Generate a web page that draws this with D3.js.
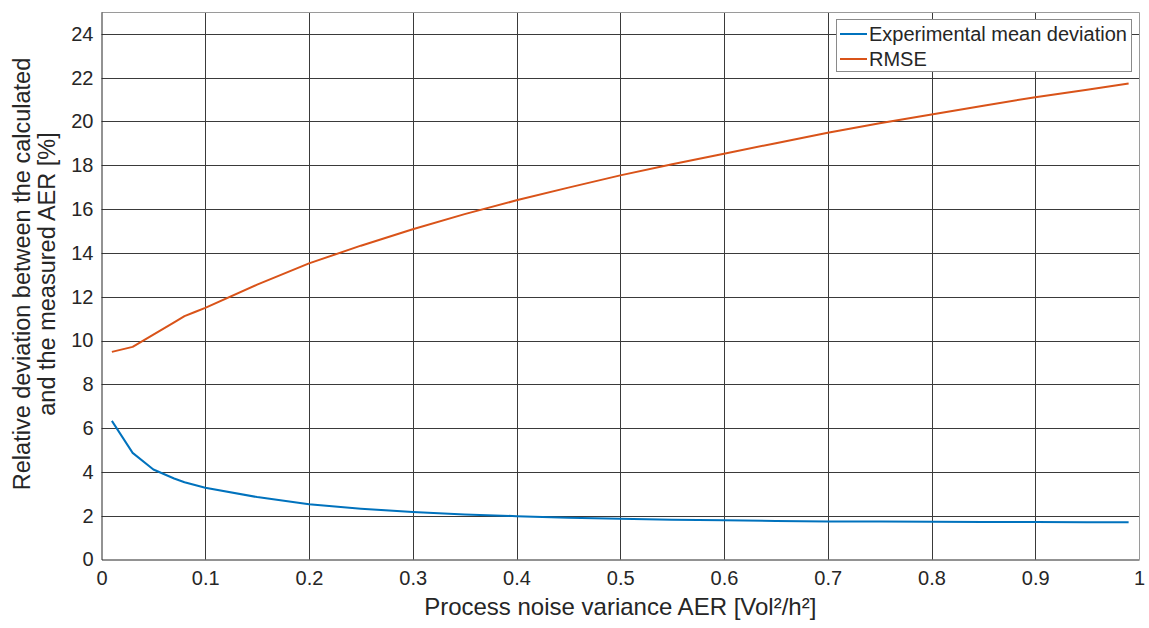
<!DOCTYPE html>
<html><head><meta charset="utf-8">
<script src="https://cdn.jsdelivr.net/npm/d3@7"></script>
<style>
body{margin:0;background:#fff;}
text{font-family:"Liberation Sans",Arial,Helvetica,sans-serif;fill:#262626;}
</style></head>
<body><svg id="c" width="1149" height="628"></svg>
<script>
const xValues = [0.01,0.03,0.05,0.07,0.08,0.09,0.10,0.15,0.20,0.25,0.30,0.35,0.40,0.45,0.50,0.55,0.60,0.65,0.70,0.75,0.80,0.85,0.90,0.95,0.99];
const meanDeviation = [6.33,4.87,4.11,3.70,3.53,3.40,3.28,2.85,2.52,2.32,2.17,2.06,1.98,1.91,1.86,1.82,1.79,1.76,1.74,1.73,1.72,1.715,1.71,1.705,1.70];
const rmse = [9.48,9.71,10.27,10.83,11.11,11.30,11.49,12.55,13.52,14.33,15.08,15.77,16.40,16.98,17.54,18.05,18.53,19.01,19.49,19.92,20.32,20.72,21.11,21.45,21.74];
const xTicks = [0,0.1,0.2,0.3,0.4,0.5,0.6,0.7,0.8,0.9,1];
const xTickLabels = ["0","0.1","0.2","0.3","0.4","0.5","0.6","0.7","0.8","0.9","1"];
const yTicks = [0,2,4,6,8,10,12,14,16,18,20,22,24];
const seriesNames = ["Experimental mean deviation","RMSE"];
const seriesColors = ["#0072BD","#D95319"];

const svg = d3.select("#c");
const L=101.5, R=1139, T=12, B=559.5;
const x = d3.scaleLinear().domain([0,1]).range([L,R]);
const y = d3.scaleLinear().domain([0,25]).range([B,T]);

// grid
const g = svg.append("g");
g.selectAll(".vg").data(xTicks.slice(1,-1)).enter().append("line")
  .attr("x1",d=>Math.round(x(d))+0.5).attr("x2",d=>Math.round(x(d))+0.5)
  .attr("y1",T).attr("y2",B).attr("stroke","#3a3a3a").attr("stroke-width",1);
g.selectAll(".hg").data(yTicks.slice(1)).enter().append("line")
  .attr("y1",d=>Math.round(y(d))+0.5).attr("y2",d=>Math.round(y(d))+0.5)
  .attr("x1",L).attr("x2",R).attr("stroke","#3a3a3a").attr("stroke-width",1);

// box top/right
svg.append("path").attr("d",`M${L},${T+0.5}H${R+0.5}V${B}`).attr("fill","none").attr("stroke","#9a9a9a").attr("stroke-width",1);

// axes
const xAxis = d3.axisBottom(x).tickValues(xTicks).tickFormat((d,i)=>xTickLabels[i]).tickSize(0).tickPadding(11);
const xa = svg.append("g").attr("transform",`translate(0,${B})`).call(xAxis);
xa.select(".domain").attr("stroke","#262626");
xa.selectAll("text").attr("font-size",20).attr("fill","#262626").attr("font-family","Liberation Sans, Arial, sans-serif");
const yAxis = d3.axisLeft(y).tickValues(yTicks).tickFormat(d3.format("d")).tickSize(0).tickPadding(8);
const ya = svg.append("g").attr("transform",`translate(${L},0)`).call(yAxis);
ya.select(".domain").attr("stroke","#262626");
ya.selectAll("text").attr("font-size",20).attr("fill","#262626").attr("font-family","Liberation Sans, Arial, sans-serif");

// lines
const line = d3.line().x((d,i)=>x(xValues[i])).y(d=>y(d));
[meanDeviation,rmse].forEach((s,k)=>{
  svg.append("path").attr("d",line(s)).attr("fill","none").attr("stroke",seriesColors[k]).attr("stroke-width",2).attr("stroke-linejoin","round");
});

// labels
svg.append("text").attr("x",(L+R)/2).attr("y",615).attr("text-anchor","middle").attr("font-size",24).text("Process noise variance AER [Vol²/h²]");
const yl = svg.append("text").attr("transform",`translate(30,274) rotate(-90)`).attr("text-anchor","middle").attr("font-size",23.5);
yl.append("tspan").attr("x",0).attr("dy",0).text("Relative deviation between the calculated");
yl.append("tspan").attr("x",0).attr("dy",25).text("and the measured AER [%]");

// legend
const lg = svg.append("g");
lg.append("rect").attr("x",836.5).attr("y",19.5).attr("width",295).attr("height",52).attr("fill","#fff").attr("stroke","#8a8a8a").attr("stroke-width",1);
seriesNames.forEach((n,i)=>{
  const cy = 34 + i*25;
  lg.append("line").attr("x1",840).attr("x2",867).attr("y1",cy).attr("y2",cy).attr("stroke",seriesColors[i]).attr("stroke-width",2);
  lg.append("text").attr("x",869).attr("y",cy+7).attr("font-size",20).text(n);
});
</script></body></html>
